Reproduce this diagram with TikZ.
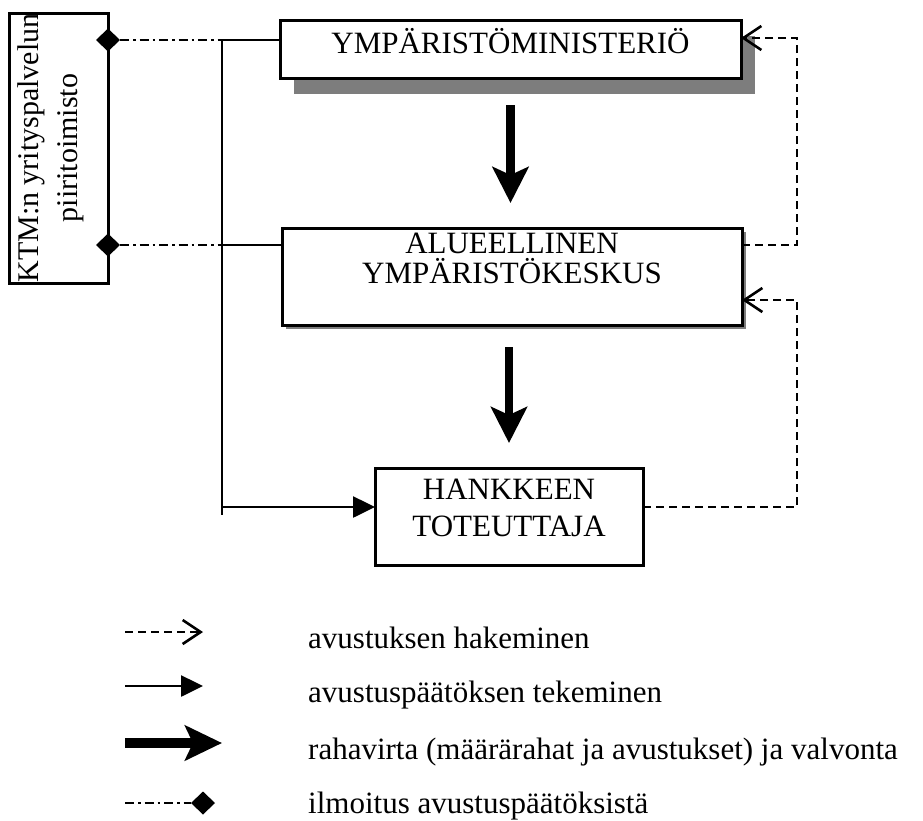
\documentclass[tikz,border=0pt]{standalone}
\usepackage{fontspec}
\setmainfont{Liberation Serif}
\usetikzlibrary{arrows.meta,shapes.geometric,backgrounds}
\definecolor{shadowgray}{RGB}{125,125,125}
\begin{document}
\begin{tikzpicture}[x=1pt,y=-1pt,
  box/.style={draw=black, line width=3pt, fill=white, rectangle, inner sep=0pt, outer sep=0pt},
  boxtext/.style={anchor=base, inner sep=0pt, font=\fontsize{31}{31}\selectfont},
  ktmtext/.style={anchor=base, inner sep=0pt, rotate=90, font=\fontsize{30}{30}\selectfont},
  legtext/.style={anchor=base west, inner sep=0pt, font=\fontsize{31}{31}\selectfont},
  dia/.style={diamond, fill=black, inner sep=0pt, outer sep=0pt, minimum width=24pt, minimum height=23pt},
  solidline/.style={line width=2.6pt},
  dashline/.style={line width=2.6pt, dash pattern=on 8pt off 5pt},
  dashdotline/.style={line width=2.6pt, dash pattern=on 9pt off 4pt on 2.5pt off 4pt},
  openhead/.style={-{Straight Barb[length=18pt,width=24pt]}},
  trihead/.style={-{Triangle[length=22pt,width=21pt]}},
  thickarrow/.style={line width=8.5pt, -{Stealth[length=36pt,width=36pt,inset=8pt]}}
]
\useasboundingbox (0,0) rectangle (923,820);

% boxes
\node[box, minimum width=99pt, minimum height=270pt] (ktm) at (58.5,148) {};
\node[box, minimum width=461pt, minimum height=58pt] (top) at (510.5,49) {};
\node[box, minimum width=460pt, minimum height=97pt] (mid) at (512,276.5) {};
\node[box, minimum width=268pt, minimum height=97pt] (bot) at (509,516.5) {};

% shadows
\begin{scope}[on background layer]
  \fill[shadowgray] ([shift={(14,16)}]top.south west) rectangle ([shift={(14,16)}]top.north east);
  \fill[shadowgray] ([shift={(4,4)}]mid.south west) rectangle ([shift={(4,4)}]mid.north east);
  \fill[gray!45] ([shift={(2,2)}]bot.south west) rectangle ([shift={(2,2)}]bot.north east);
\end{scope}

% texts
\node[ktmtext] (ktm1) at (38,148) {KTM:n yrityspalvelun};
\node[ktmtext] (ktm2) at (77,148) {piiritoimisto};
\node[boxtext] (toptext) at (510.5,53) {YMPÄRISTÖMINISTERIÖ};
\node[boxtext] (midtext1) at (512,253) {ALUEELLINEN};
\node[boxtext] (midtext2) at (512,283) {YMPÄRISTÖKESKUS};
\node[boxtext] (bottext1) at (509,499) {HANKKEEN};
\node[boxtext] (bottext2) at (509,536) {TOTEUTTAJA};

% junctions
\coordinate (j1) at (222,40);
\coordinate (j2) at (222,245);
\coordinate (ja) at (222,507);
\coordinate (jb) at (222,515);
\coordinate (r1) at (797,38);
\coordinate (r2) at (797,245);
\coordinate (r3) at (797,300);
\coordinate (r4) at (797,507);

% diamonds on KTM box
\node[dia] (d1) at (ktm.east |- j1) {};
\node[dia] (d2) at (ktm.east |- j2) {};

% notification lines
\draw[dashdotline] (d1.east) -- (j1);
\draw[dashdotline] (d2.east) -- (j2);

% decision lines
\draw[solidline] (j1) -- (j1 -| top.west);
\draw[solidline] (j2) -- (j2 -| mid.west);
\draw[solidline] (j1) -- (jb);
\draw[solidline, trihead] (ja) -- (ja -| bot.west);

% application lines
\draw[dashline, openhead] (mid.east |- r2) -- (r2) -- (r1) -- (r1 -| top.east);
\draw[dashline, openhead] (bot.east |- r4) -- (r4) -- (r3) -- (r3 -| mid.east);

% money flow
\draw[thickarrow, shorten <=27pt, shorten >=25pt] (top.south) -- (top.south |- mid.north);
\draw[thickarrow, shorten <=22pt, shorten >=25pt] (bot.north |- mid.south) -- (bot.north);

% legend
\coordinate (l1a) at (125,632); \coordinate (l1b) at (203,632);
\coordinate (l2a) at (125,686); \coordinate (l2b) at (203,686);
\coordinate (l3a) at (125,743); \coordinate (l3b) at (222,743);
\coordinate (l4a) at (125,803);
\node[dia] (l4d) at (203,803) {};
\draw[dashline, openhead] (l1a) -- (l1b);
\draw[solidline, trihead] (l2a) -- (l2b);
\draw[line width=10pt, -{Stealth[length=37pt,width=35pt,inset=8pt]}] (l3a) -- (l3b);
\draw[dashdotline] (l4a) -- (l4d.west);

\node[legtext] (lt1) at (308,648) {avustuksen hakeminen};
\node[legtext] (lt2) at (308,702) {avustuspäätöksen tekeminen};
\node[legtext] (lt3) at (308,759) {rahavirta (määrärahat ja avustukset) ja valvonta};
\node[legtext] (lt4) at (308,813) {ilmoitus avustuspäätöksistä};
\end{tikzpicture}
\end{document}
